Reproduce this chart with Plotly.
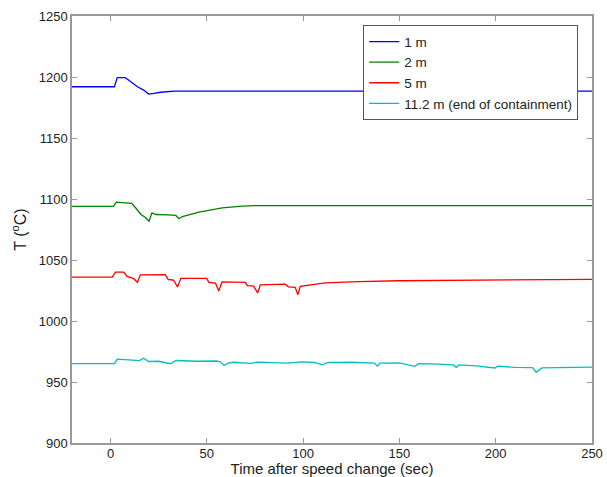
import plotly.graph_objects as go

# ---- data ----
t_1m = [-20, 2, 3.5, 7.5, 9, 10.7, 14, 17, 19.8, 22.5, 26, 33, 60, 250]
T_1m = [1192, 1192, 1199.5, 1199.5, 1198, 1196, 1192, 1189.5, 1186, 1186.5, 1187.5, 1188.5, 1188.5, 1188.5]

t_2m = [-20, 1.5, 3, 8.6, 11, 13, 15.8, 18.3, 20, 21.5, 23.6, 30, 33.9, 35.6, 37.3, 45.9, 58, 68.3, 75, 250]
T_2m = [1094, 1094, 1097.4, 1097, 1096.5, 1092.8, 1087.3, 1084.6, 1081.8, 1088.7, 1087.3, 1087, 1086.5, 1083.8, 1085.6, 1089.2, 1092.8, 1094.1, 1094.6, 1094.6]

t_5m = [-20, 0.9, 2.6, 6.9, 8.6, 12, 14, 15.5, 28.4, 30, 32.7, 34.8, 36.5, 50, 51, 54.5, 56.2, 57.9, 70, 71, 74.3, 76.4, 77.8,
        90.7, 92.4, 95.9, 97.3, 98.5, 111.4, 128.6, 150, 200, 250]
T_5m = [1036, 1036, 1040, 1040, 1036.6, 1034.7, 1031.7, 1037.8, 1038, 1034, 1033.5, 1027.9, 1035, 1035, 1031.7, 1031, 1024.6, 1032, 1031.7, 1029, 1028.6, 1023, 1029.6,
        1030.2, 1028, 1027.5, 1021.6, 1028.4, 1031.2, 1032.3, 1033, 1033.8, 1034.2]

t_11m = [-20, 2, 3.5, 10, 15, 17.2, 19.8, 25, 31, 34, 45, 55, 57, 59, 61, 64, 73, 76, 80, 92, 99, 106, 110, 113,
         118, 125, 137, 138.5, 140, 150, 158, 160, 167, 178, 179.5, 181, 190, 199.6, 201, 210, 219, 221, 224, 250]
T_11m = [965, 965, 968.8, 968, 967.5, 969.5, 966.8, 967, 965, 967.6, 967, 967.2, 966.5, 963.5, 965.5, 966.2, 965.2, 966.3, 966, 965.5, 966.5, 966, 964, 966,
         966, 966.2, 965.5, 963, 965.5, 965.6, 962.8, 965, 964.8, 964, 962, 964, 963.2, 961.5, 963, 962, 961.8, 958, 961.5, 962.2]

series = [
    ("1 m", t_1m, T_1m, "#0000FF"),
    ("2 m", t_2m, T_2m, "#008000"),
    ("5 m", t_5m, T_5m, "#FF0000"),
    ("11.2 m (end of containment)", t_11m, T_11m, "#00BFBF"),
]

x_ticks = [0, 50, 100, 150, 200, 250]
y_ticks = [900, 950, 1000, 1050, 1100, 1150, 1200, 1250]

fig = go.Figure()
for name, xs, ys, col in series:
    fig.add_trace(go.Scatter(x=xs, y=ys, mode="lines", name=name,
                             line=dict(color=col, width=1.3)))

axis_common = dict(showline=True, linecolor="#999999", linewidth=1.5, mirror="ticks",
                   ticks="inside", ticklen=5, tickcolor="#999999", showgrid=False,
                   zeroline=False, automargin=False,
                   tickfont=dict(size=13, color="#222222"))

fig.update_layout(
    width=607, height=477,
    margin=dict(l=72, r=15, t=16, b=34),
    paper_bgcolor="white", plot_bgcolor="white",
    font=dict(family="Liberation Sans, Arial, sans-serif", size=13, color="#222222"),
    xaxis=dict(range=[-20, 250], tickvals=x_ticks, ticklabelstandoff=-2,
               title=dict(text="Time after speed change (sec)", standoff=3, font=dict(size=15)),
               **axis_common),
    yaxis=dict(range=[900, 1250], tickvals=y_ticks,
               title=dict(text="T (<sup>o</sup>C)", standoff=8, font=dict(size=16)),
               **axis_common),
    legend=dict(x=0.56, y=0.978, xanchor="left", yanchor="top",
                bgcolor="white", bordercolor="#555555", borderwidth=1,
                font=dict(size=13.5, color="#222222"), tracegroupgap=0,
                itemwidth=30),
    showlegend=True,
)

fig.write_html("out.html")
